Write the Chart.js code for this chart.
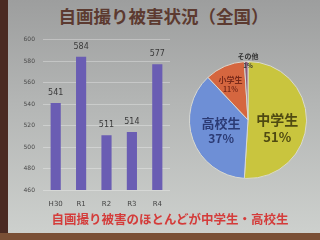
<!DOCTYPE html>
<html>
<head>
<meta charset="utf-8">
<script src="https://cdn.jsdelivr.net/npm/chart.js@4"></script>
<style>
  html, body { margin: 0; padding: 0; }
  body { width: 320px; height: 240px; background: #4a2a22; position: relative; overflow: hidden; font-family: "Noto Sans CJK JP", sans-serif; }
  .slide { position: absolute; left: 8px; top: 0; width: 312px; height: 233px;
    background: linear-gradient(180deg, #9d9e9e 0%, #b4b6b5 45%, #cdd0cd 100%); }
  .floor { position: absolute; left: 0; top: 233px; width: 320px; height: 7px; background: #7a5036; }
  .title { position: absolute; left: 0; top: 3px; width: 327px; text-align: center; font-size: 17.5px; font-weight: bold; color: #5c3a30; }
  .note { position: absolute; left: 0; top: 209px; width: 340px; text-align: center; font-size: 12.5px; font-weight: bold; color: #d43c3a; }
  #bar { position: absolute; left: 10px; top: 28px; }
  #pie { position: absolute; left: 180px; top: 46px; }
</style>
</head>
<body>
<div class="slide"></div>
<div class="floor"></div>
<div class="title">自画撮り被害状況（全国）</div>
<canvas id="bar" width="160" height="182"></canvas>
<canvas id="pie" width="136" height="138"></canvas>
<div class="note">自画撮り被害のほとんどが中学生・高校生</div>
<script>
const years = ['H30', 'R1', 'R2', 'R3', 'R4'];
const victims = [541, 584, 511, 514, 577];
const yTicks = [460, 480, 500, 520, 540, 560, 580, 600];

const groups = ['中学生', '高校生', '小学生', 'その他'];
const shares = [51, 37, 11, 1];

// value labels above bars
const barLabels = {
  id: 'barLabels',
  afterDatasetsDraw(chart) {
    const ctx = chart.ctx;
    ctx.save();
    ctx.font = '8px "DejaVu Sans", sans-serif';
    ctx.fillStyle = '#3a3a3a';
    ctx.textAlign = 'center';
    chart.getDatasetMeta(0).data.forEach((bar, i) => {
      ctx.fillText(victims[i], bar.x, bar.y - 8);
    });
    ctx.restore();
  }
};

new Chart(document.getElementById('bar').getContext('2d'), {
  type: 'bar',
  data: {
    labels: years,
    datasets: [{ data: victims, backgroundColor: '#6a5db3', categoryPercentage: 1, barPercentage: 0.4 }]
  },
  options: {
    responsive: false,
    animation: false,
    layout: { padding: { top: 7, right: 0, left: 0, bottom: 0 } },
    plugins: { legend: { display: false }, tooltip: { enabled: false } },
    scales: {
      x: {
        grid: { display: false },
        border: { display: false },
        ticks: { color: '#444', font: { size: 7, family: 'DejaVu Sans' }, padding: 2 },
        afterFit(s) { s.height = 20; }
      },
      y: {
        min: 460, max: 600,
        afterBuildTicks(s) { s.ticks = yTicks.map(v => ({ value: v })); },
        grid: { color: 'rgba(255,255,255,0.3)', drawTicks: false },
        border: { display: false },
        ticks: { color: '#4a4a4a', font: { size: 6, family: 'DejaVu Sans' }, padding: 8 },
        afterFit(s) { s.width = 33; }
      }
    }
  },
  plugins: [barLabels]
});

// label spots as fractions of the pie radius
const pieSpots = [[0.5, 0.0, 14, '#4f4a12'], [-0.46, 0.05, 13, '#2b3a74'], [-0.3, -0.68, 8, '#7a2a1a'], [0.0, -1.08, 7, '#333']];
const pieLabels = {
  id: 'pieLabels',
  afterDatasetsDraw(chart) {
    const ctx = chart.ctx;
    const arc = chart.getDatasetMeta(0).data[0];
    const r = arc.outerRadius;
    ctx.save();
    ctx.textAlign = 'center';
    ctx.textBaseline = 'middle';
    groups.forEach((g, i) => {
      const [fx, fy, size, color] = pieSpots[i];
      const x = arc.x + fx * r, y = arc.y + fy * r;
      ctx.fillStyle = color;
      ctx.font = 'bold ' + size + 'px "Noto Sans CJK JP"';
      ctx.fillText(g, x, y);
      ctx.font = 'bold ' + (size - 1) + 'px "Noto Sans CJK JP"';
      ctx.fillText(shares[i] + '%', x, y + size * 1.2);
    });
    ctx.restore();
  }
};

new Chart(document.getElementById('pie').getContext('2d'), {
  type: 'pie',
  data: {
    labels: groups,
    datasets: [{
      data: shares,
      backgroundColor: ['#c9c53e', '#6e8fd6', '#d5663f', '#8c5b7c'],
      borderColor: '#d8d8d0',
      borderWidth: 1
    }]
  },
  options: {
    responsive: false,
    animation: false,
    layout: { padding: { top: 15, left: 9, right: 9, bottom: 5 } },
    plugins: { legend: { display: false }, tooltip: { enabled: false } }
  },
  plugins: [pieLabels]
});
</script>
</body>
</html>
